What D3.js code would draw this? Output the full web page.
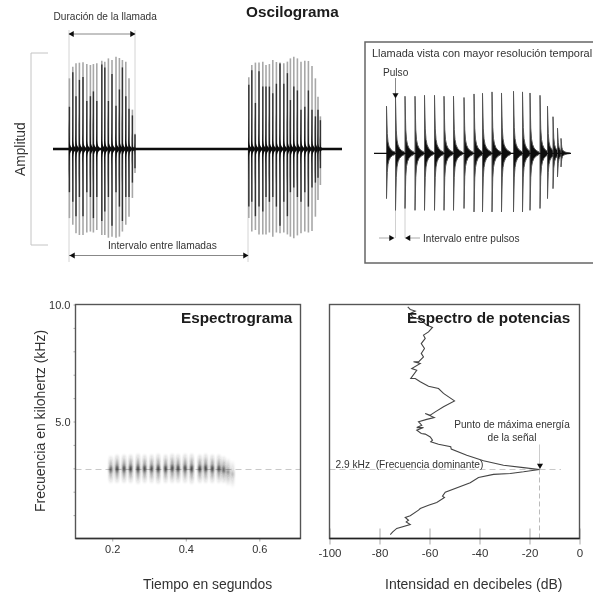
<!DOCTYPE html>
<html>
<head>
<meta charset="utf-8">
<script src="https://cdn.jsdelivr.net/npm/d3@7"></script>
<style>
  html, body { margin: 0; padding: 0; background: #fff; overflow: hidden; }
  svg { display: block; }
  text { font-family: "Liberation Sans", Arial, sans-serif; fill: #333; }
</style>
</head>
<body>
<script>
// oscillogram, two calls (time in s, amplitudes relative to the bracket)
var call1Times = [.082,.099,.115,.132,.150,.169,.187,.202,.219,.244,.259,.277,.295,.315,.332,.347,.364,.380,.397,.410];
var call1Up = [.736,.858,.892,.899,.903,.885,.875,.885,.892,.92,.91,.944,.927,.962,.948,.927,.91,.736,.41,.16];
var call1Down = [.72,.79,.878,.896,.896,.87,.86,.87,.844,.896,.896,.924,.913,.924,.913,.86,.79,.705,.51,.25];
var call1CoreUp = [.44,.8,.55,.72,.75,.5,.55,.6,.5,.88,.85,.5,.78,.45,.62,.85,.55,.42,.35,.15];
var call1CoreDown = [.45,.55,.7,.5,.7,.45,.5,.72,.5,.75,.65,.5,.8,.45,.6,.75,.5,.5,.35,.2];

var call2Times = [.979,.994,1.012,1.030,1.049,1.065,1.082,1.099,1.117,1.135,1.154,1.172,1.187,1.204,1.222,1.240,1.259,1.277,1.295,1.312,1.325,1.337];
var call2Up = [.747,.875,.9,.9,.91,.875,.885,.927,.906,.9,.892,.91,.944,.962,.944,.91,.92,.917,.865,.736,.545,.34];
var call2Down = [.72,.86,.844,.89,.89,.89,.87,.913,.87,.878,.87,.89,.913,.93,.9,.878,.86,.87,.854,.705,.53,.375];
var call2CoreUp = [.67,.82,.48,.81,.65,.65,.65,.58,.68,.89,.68,.79,.51,.65,.61,.41,.44,.61,.41,.34,.41,.3];
var call2CoreDown = [.6,.55,.7,.6,.65,.5,.55,.5,.6,.8,.55,.7,.45,.4,.5,.55,.45,.6,.4,.35,.3,.2];

var call1Start = .08, call1End = .41, call2Start = .975;

// inset, one call at higher time resolution
var insetTimes = [.025,.043,.062,.082,.101,.121,.140,.159,.180,.200,.217,.236,.255,.279,.297,.312,.332,.347,.358,.367,.374];
var insetUp = [.76,.89,.92,.92,.935,.935,.92,.92,.90,.957,.968,.99,.973,1,.99,.973,.935,.76,.59,.405,.24];
var insetDown = [.73,.92,.89,.92,.92,.92,.92,.92,.89,.946,.946,.946,.946,.946,.946,.92,.89,.73,.57,.38,.22];
var pulseTailTime = [0,.0015,.003,.005,.008,.012,.018];
var pulseTailAmp = [1,.42,.24,.15,.09,.05,.02];

// spectrogram pulses
var spectroTimes = [.196,.213,.232,.250,.270,.288,.307,.325,.345,.363,.379,.398,.416,.438,.454,.472,.490,.503,.515,.527];
var spectroUp = [.62,.68,.68,.68,.72,.68,.68,.72,.68,.72,.7,.72,.72,.68,.72,.68,.68,.6,.5,.4];
var spectroDown = [.62,.62,.62,.62,.66,.62,.62,.66,.62,.62,.62,.62,.66,.62,.62,.62,.62,.62,.72,.8];
var spectroDark = [.8,.95,.95,.95,.95,.95,.9,.95,.95,.95,.95,.95,.95,.95,.95,.95,.9,.8,.55,.35];

var dominantFreq = 2.95;
var peakDb = -16;

// power spectrum
var spectrumDb = [-68.7,-67.7,-65.7,-67.7,-66.8,-63.7,-61.1,-58.8,-60.4,-62.4,-61.7,-63.3,-62,-63.3,-62.4,-64.4,-66.4,-63.7,-67.1,-65.1,-67.5,-65.7,-63.7,-60.4,-56.4,-54.4,-50,-54.4,-57.7,-59.7,-61.7,-58.1,-61.1,-64.4,-63.1,-65.1,-62.4,-65.1,-63.3,-61.7,-59.7,-58.8,-59.5,-56.4,-51.5,-51.3,-45.1,-38.4,-30.4,-22.4,-16,-22.4,-27.7,-34.4,-40.4,-43.7,-53.7,-54.8,-54,-57.1,-60.4,-63.7,-64.4,-67.7,-69.7,-68.4,-69.3,-67.7,-73.1,-74.7,-75.7];
var spectrumKhz = [9.9,9.79,9.72,9.62,9.47,9.36,9.12,9.02,8.83,8.69,8.55,8.33,8.12,7.91,7.76,7.55,7.55,7.48,7.26,7.19,6.84,6.84,6.7,6.51,6.41,6.2,5.88,5.63,5.41,5.27,5.34,5.17,5.09,4.99,4.84,4.74,4.74,4.63,4.49,4.46,4.34,4.2,4.13,4.03,3.92,3.82,3.56,3.32,3.13,3.03,2.95,2.85,2.78,2.74,2.61,2.38,1.98,1.81,1.75,1.54,1.42,1.28,1.21,.97,.9,.78,.71,.6,.43,.28,.17];

var spectroXTicks = [.2,.4,.6];
var freqTicks = [1,2,3,4,5,6,7,8,9,10];
var freqLabels = [5,10];
var dbTicks = [-100,-80,-60,-40,-20,0];

var svgWidth = 593;
var svgHeight = 596;

var svg = d3.select("body")
  .append("svg")
  .attr("width", svgWidth)
  .attr("height", svgHeight);

var defs = svg.append("defs");

// the reference is a soft scan, so everything gets a slight blur
defs.append("filter").attr("id", "soft")
  .attr("filterUnits", "userSpaceOnUse")
  .attr("x", 0).attr("y", 0)
  .attr("width", svgWidth).attr("height", svgHeight)
  .append("feGaussianBlur").attr("stdDeviation", 0.4);

defs.append("filter").attr("id", "smear")
  .attr("x", "-200%").attr("width", "500%")
  .append("feGaussianBlur").attr("stdDeviation", "0.9 0.9");

var pulseGrad = defs.append("linearGradient").attr("id", "pulseGrad")
  .attr("x1", 0).attr("y1", 0).attr("x2", 0).attr("y2", 1);
[[0, 0], [.15, .2], [.38, .55], [.46, 1], [.54, 1], [.62, .55], [.85, .2], [1, 0]].forEach(function(s) {
  pulseGrad.append("stop").attr("offset", s[0]).attr("stop-color", "#222").attr("stop-opacity", s[1]);
});

var page = svg.append("g").attr("filter", "url(#soft)");

function addText(str, x, y, size, opts) {
  opts = opts || {};
  var t = page.append("text")
    .attr("x", x).attr("y", y)
    .style("font-size", size + "px")
    .attr("text-anchor", opts.anchor || "start")
    .text(str);
  if (opts.bold) t.style("font-weight", "bold").style("fill", "#1a1a1a");
  if (opts.rotate) t.attr("x", 0).attr("y", 0).attr("transform", `translate(${x},${y}) rotate(-90)`);
  return t;
}

function guide(x1, y1, x2, y2, color, width, dash) {
  page.append("line")
    .attr("x1", x1).attr("y1", y1).attr("x2", x2).attr("y2", y2)
    .attr("stroke", color).attr("stroke-width", width)
    .attr("stroke-dasharray", dash || null);
}

// angle 0 points up
function arrowHead(x, y, angle) {
  page.append("path")
    .attr("d", d3.symbol().type(d3.symbolTriangle).size(16))
    .attr("transform", `translate(${x},${y}) rotate(${angle})`)
    .attr("fill", "#111");
}

// ---- oscillogram ----
var oscX = d3.scaleLinear().domain([0, 1.445]).range([53, 342]);
var oscY = d3.scaleLinear().domain([-1, 1]).range([245, 53]);

function drawCall(times, up, down, coreUp, coreDown) {
  var pulses = times.map(function(t, i) {
    return { t: t, up: up[i], down: down[i], coreUp: coreUp[i], coreDown: coreDown[i] };
  });
  var g = page.append("g");
  g.selectAll(".tip").data(pulses).enter().append("line")
    .attr("x1", d => oscX(d.t)).attr("x2", d => oscX(d.t))
    .attr("y1", d => oscY(d.up)).attr("y2", d => oscY(-d.down))
    .attr("stroke", "#a8a8a8").attr("stroke-width", 1.6);
  g.selectAll(".core").data(pulses).enter().append("line")
    .attr("x1", d => oscX(d.t)).attr("x2", d => oscX(d.t))
    .attr("y1", d => oscY(d.coreUp)).attr("y2", d => oscY(-d.coreDown))
    .attr("stroke", "#333").attr("stroke-width", 1.4);
  // dark decaying head of each pulse, close to the zero line
  var tail = d3.area()
    .x(k => oscX(k.t))
    .y0(k => oscY(-k.a))
    .y1(k => oscY(k.a));
  g.selectAll(".head").data(pulses).enter().append("path")
    .attr("d", function(d) {
      return tail(pulseTailTime.map(function(dt, j) {
        return { t: d.t - .003 + dt * 1.2, a: pulseTailAmp[j] * d.up * 0.42 };
      }));
    })
    .attr("fill", "#111");
}

guide(oscX(call1Start), 30, oscX(call1Start), 262, "#d4d4d4", 1);
guide(oscX(call1End), 30, oscX(call1End), 150, "#d4d4d4", 1);
guide(oscX(call2Start), 150, oscX(call2Start), 262, "#d4d4d4", 1);

drawCall(call1Times, call1Up, call1Down, call1CoreUp, call1CoreDown);
drawCall(call2Times, call2Up, call2Down, call2CoreUp, call2CoreDown);

page.append("line")
  .attr("x1", oscX(0)).attr("x2", oscX(1.445))
  .attr("y1", oscY(0)).attr("y2", oscY(0))
  .attr("stroke", "#111").attr("stroke-width", 2.4);

// amplitude bracket
guide(31, oscY(1), 31, oscY(-1), "#c4c4c4", 1);
guide(31, oscY(1), 48, oscY(1), "#c4c4c4", 1);
guide(31, oscY(-1), 48, oscY(-1), "#c4c4c4", 1);

// call duration and interval arrows
guide(oscX(call1Start), 34, oscX(call1End), 34, "#888", 1);
arrowHead(oscX(call1Start) + 3, 34, -90);
arrowHead(oscX(call1End) - 3, 34, 90);
guide(oscX(call1Start), 255.5, oscX(call2Start), 255.5, "#888", 1);
arrowHead(oscX(call1Start) + 4, 255.5, -90);
arrowHead(oscX(call2Start) - 3, 255.5, 90);

addText("Oscilograma", 246, 17, 15.3, { bold: true });
addText("Duración de la llamada", 53.5, 20, 10.1);
addText("Intervalo entre llamadas", 108, 249, 10.2);
addText("Amplitud", 24.5, 176, 13.8, { rotate: true });

// ---- inset ----
page.append("rect")
  .attr("x", 365).attr("y", 42).attr("width", 240).attr("height", 221)
  .attr("fill", "none").attr("stroke", "#666").attr("stroke-width", 1.5);

var insetX = d3.scaleLinear().domain([0, .394]).range([374, 571]);
var insetY = d3.scaleLinear().domain([-1, 1]).range([215.3, 91.3]);

guide(insetX(.043), insetY(0), insetX(.043), 238, "#d0d0d0", 1);
guide(insetX(.062), insetY(0), insetX(.062), 238, "#d0d0d0", 1);

var insetPulses = insetTimes.map(function(t, i) {
  return { t: t, up: insetUp[i], down: insetDown[i] };
});
var insetTail = d3.area()
  .x(k => insetX(k.t))
  .y0(k => insetY(-k.down))
  .y1(k => insetY(k.up));

page.append("g").selectAll("path").data(insetPulses).enter().append("path")
  .attr("d", function(d) {
    return insetTail(pulseTailTime.map(function(dt, j) {
      return { t: d.t + dt, up: d.up * pulseTailAmp[j], down: d.down * pulseTailAmp[j] };
    }));
  })
  .attr("fill", "#111")
  .attr("stroke", "#555")
  .attr("stroke-width", 1);

page.append("line")
  .attr("x1", insetX(0)).attr("x2", insetX(.394))
  .attr("y1", insetY(0)).attr("y2", insetY(0))
  .attr("stroke", "#111").attr("stroke-width", 1.2);

guide(insetX(.043), 78, insetX(.043), 94, "#888", 1);
arrowHead(insetX(.043), 95, 180);
guide(379, 238, 391, 238, "#aaa", 1);
guide(409, 238, 420, 238, "#aaa", 1);
arrowHead(391, 238, 90);
arrowHead(408.5, 238, -90);

addText("Llamada vista con mayor resolución temporal", 372, 56.5, 10.95);
addText("Pulso", 383, 76, 10.1);
addText("Intervalo entre pulsos", 423, 241.5, 10.1);

// ---- spectrogram ----
var specX = d3.scaleLinear().domain([.1, .712]).range([75.5, 300.5]);
var freqY = d3.scaleLinear().domain([0, 10]).range([538.5, 304.5]);

var specBottom = page.append("g")
  .attr("transform", `translate(0,${freqY(0)})`)
  .call(d3.axisBottom(specX).tickValues(spectroXTicks).tickFormat(d3.format(".1f")).tickSize(3).tickSizeOuter(0));
var specLeft = page.append("g")
  .attr("transform", `translate(${specX.range()[0]},0)`)
  .call(d3.axisLeft(freqY).tickValues(freqTicks)
    .tickFormat(d => freqLabels.includes(d) ? d3.format(".1f")(d) : "")
    .tickSize(2).tickSizeOuter(0));
[specBottom, specLeft].forEach(function(ax) {
  ax.select(".domain").remove();
  ax.selectAll(".tick line").attr("stroke", "#aaa");
  ax.selectAll(".tick text").style("font-size", "11px").style("font-family", null);
});
specBottom.selectAll(".tick text").attr("dy", "0.75em");

var specPulses = spectroTimes.map(function(t, i) {
  return { t: t, up: spectroUp[i], down: spectroDown[i], dark: spectroDark[i] };
});
guide(specX.range()[0], freqY(dominantFreq), specX.range()[1], freqY(dominantFreq), "#c8c8c8", 1, "6 4");
page.append("g").selectAll("rect").data(specPulses).enter().append("rect")
  .attr("x", d => specX(d.t) - 1.6)
  .attr("width", 3.2)
  .attr("y", d => freqY(dominantFreq + d.up))
  .attr("height", d => freqY(dominantFreq - d.down) - freqY(dominantFreq + d.up))
  .attr("fill", "url(#pulseGrad)")
  .attr("opacity", d => d.dark)
  .attr("filter", "url(#smear)");

page.append("rect")
  .attr("x", specX.range()[0]).attr("y", freqY(10))
  .attr("width", specX.range()[1] - specX.range()[0]).attr("height", freqY(0) - freqY(10))
  .attr("fill", "none").attr("stroke", "#555").attr("stroke-width", 1.4);

addText("Espectrograma", 181, 322.5, 15.3, { bold: true });
addText("Frecuencia en kilohertz (kHz)", 45, 512, 14, { rotate: true });
addText("Tiempo en segundos", 143, 588.5, 13.9);

// ---- power spectrum ----
var dbX = d3.scaleLinear().domain([-100, 0]).range([329.5, 579.5]);

guide(dbX(peakDb), freqY(dominantFreq) - 25, dbX(peakDb), freqY(dominantFreq), "#ccc", 1);
guide(dbX(peakDb), freqY(dominantFreq), dbX(peakDb), freqY(0), "#bbb", 1, "5 3");
guide(dbX(-100), freqY(dominantFreq), 561, freqY(dominantFreq), "#c8c8c8", 1, "6 4");

var dbAxis = page.append("g")
  .attr("transform", `translate(0,${freqY(0)})`)
  .call(d3.axisBottom(dbX).tickValues(dbTicks).tickFormat(d => String(d)).tickSize(6).tickSizeOuter(0));
dbAxis.select(".domain").remove();
dbAxis.selectAll(".tick line").attr("y1", -10).attr("stroke", "#aaa");
dbAxis.selectAll(".tick text").style("font-size", "11.5px").style("font-family", null).attr("dy", "0.8em");

var spectrumLine = d3.line()
  .x(d => dbX(d[0]))
  .y(d => freqY(d[1]));
page.append("path")
  .attr("d", spectrumLine(spectrumDb.map(function(db, i) { return [db, spectrumKhz[i]]; })))
  .attr("fill", "none")
  .attr("stroke", "#444")
  .attr("stroke-width", 1.1);

arrowHead(dbX(peakDb) + .5, freqY(dominantFreq) - 4, 180);

page.append("rect")
  .attr("x", dbX(-100)).attr("y", freqY(10))
  .attr("width", dbX(0) - dbX(-100)).attr("height", freqY(0) - freqY(10))
  .attr("fill", "none").attr("stroke", "#555").attr("stroke-width", 1.4);
guide(dbX(-100), freqY(0), dbX(0), freqY(0), "#222", 1.5);
guide(specX.range()[0], freqY(0), specX.range()[1], freqY(0), "#333", 1.4);

addText("Espectro de potencias", 407, 322.5, 15.3, { bold: true });
addText("Punto de máxima energía", 512, 428, 10.1, { anchor: "middle" });
addText("de la señal", 512, 441, 10.1, { anchor: "middle" });
addText("2.9 kHz  (Frecuencia dominante)", 335.5, 468, 10.2).style("white-space", "pre");
addText("Intensidad en decibeles (dB)", 385, 588.5, 14);
</script>
</body>
</html>
